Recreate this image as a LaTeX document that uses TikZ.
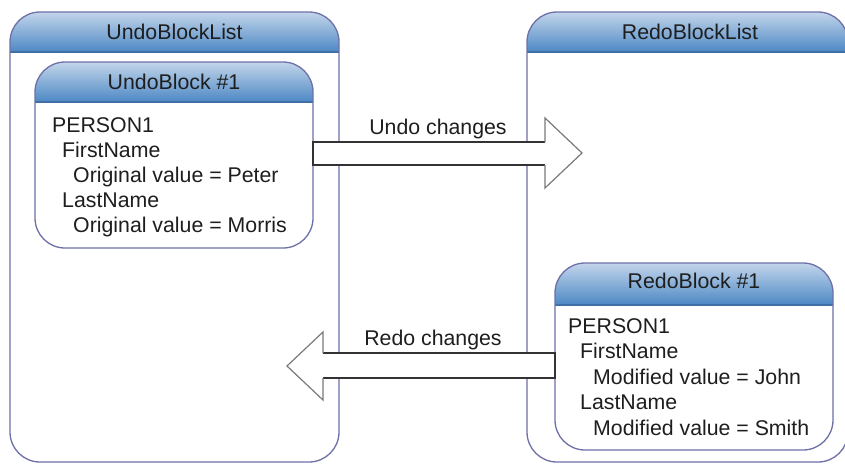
\documentclass[tikz,border=0pt]{standalone}
\usepackage{fontspec}
\setmainfont{Liberation Sans}
\usetikzlibrary{calc}
\definecolor{edge}{HTML}{6E70A8}
\definecolor{hdtop}{HTML}{C3D5EB}
\definecolor{hdbot}{HTML}{4C88C4}
\definecolor{hdline}{HTML}{3F6FA5}
\definecolor{txt}{HTML}{1E1E1E}
\definecolor{shaftc}{HTML}{333333}
\definecolor{headc}{HTML}{7A7A7A}
\newcommand{\drawblock}[2]{%
 \begin{scope}
 \clip[rounded corners=30pt] (#1.south west) -- (#1.north west) -- (#1.north east) -- (#1.south east) -- cycle;
 \fill[white] (#1.south west) rectangle (#1.north east);
 \shade[top color=hdtop,bottom color=hdbot] (#1.north west) rectangle ($(#1.north east)+(0,#2)$);
 \draw[hdline, line width=1.2pt] ($(#1.north west)+(0,#2)$) -- ($(#1.north east)+(0,#2)$);
 \end{scope}
 \draw[edge, line width=1.3pt, rounded corners=30pt] (#1.south west) -- (#1.north west) -- (#1.north east) -- (#1.south east) -- cycle;
}
\tikzset{
 frame/.style={inner sep=0pt, outer sep=0pt, draw=none},
 lbl/.style={font=\fontsize{21.3}{25}\selectfont, text=txt, inner sep=0pt, anchor=base west},
 hdr/.style={font=\fontsize{21.3}{25}\selectfont, text=txt, inner sep=0pt, anchor=base},
 shaftline/.style={draw=shaftc, line width=1.2pt, line join=miter},
 headline/.style={draw=headc, line width=1.2pt, line join=miter},
}
\begin{document}
\begin{tikzpicture}[x=1pt,y=-1pt]
\useasboundingbox (0,0) rectangle (845,463);
\fill[white] (0,0) rectangle (845,463);
% frames
\node[frame, minimum width=329pt, minimum height=450pt] (ul) at (174.5,237) {};
\node[frame, minimum width=321pt, minimum height=450pt] (rl) at (687.5,237) {};
\node[frame, minimum width=278pt, minimum height=186pt] (ub) at (174,155) {};
\node[frame, minimum width=278pt, minimum height=187pt] (rb) at (694,356.5) {};
\drawblock{ul}{40}
\drawblock{rl}{40}
\drawblock{ub}{40}
\drawblock{rb}{42}
% headers
\node[hdr] (ult) at (174.5,39.5) {UndoBlockList};
\node[hdr] (rlt) at (690,39.5) {RedoBlockList};
\node[hdr] (ubt) at (174,89) {UndoBlock \#1};
\node[hdr] (rbt) at (694,288) {RedoBlock \#1};
% undo arrow
\fill[white] ([yshift=13pt]ub.east) -- (545,142) -- (545,118) -- (582,153) -- (545,188) -- (545,165) -- ([yshift=-10pt]ub.east) -- cycle;
\draw[shaftline] (545,142) -- ([yshift=13pt]ub.east) -- ([yshift=-10pt]ub.east) -- (545,165);
\draw[headline] (545,142) -- (545,118) -- (582,153) -- (545,188) -- (545,165);
\node[hdr] (ua) at (438,134) {Undo changes};
% redo arrow
\fill[white] ([yshift=3.5pt]rb.west) -- (323,353) -- (323,332) -- (287,366) -- (323,400) -- (323,378) -- ([yshift=-21.5pt]rb.west) -- cycle;
\draw[shaftline] (323,353) -- ([yshift=3.5pt]rb.west) -- ([yshift=-21.5pt]rb.west) -- (323,378);
\draw[headline] (323,353) -- (323,332) -- (287,366) -- (323,400) -- (323,378);
\node[hdr] (ra) at (433,345.7) {Redo changes};
% undo block text
\node[lbl] (u1) at (52,132) {PERSON1};
\node[lbl] (u2) at (62,157) {FirstName};
\node[lbl] (u3) at (73,182) {Original value = Peter};
\node[lbl] (u4) at (62,207) {LastName};
\node[lbl] (u5) at (73,232) {Original value = Morris};
% redo block text
\node[lbl] (r1) at (568,333) {PERSON1};
\node[lbl] (r2) at (580,358.5) {FirstName};
\node[lbl] (r3) at (593,384) {Modified value = John};
\node[lbl] (r4) at (580,409.5) {LastName};
\node[lbl] (r5) at (593,435) {Modified value = Smith};
\end{tikzpicture}
\end{document}
